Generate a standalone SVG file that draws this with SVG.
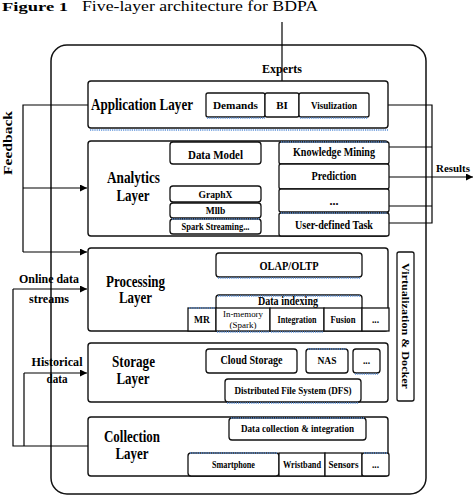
<svg xmlns="http://www.w3.org/2000/svg" width="474" height="496" viewBox="0 0 474 496">
<defs>
<marker id="ah" viewBox="0 0 10 10" refX="10" refY="5" markerWidth="7" markerHeight="7" markerUnits="userSpaceOnUse" orient="auto">
<path d="M0,0 L10,5 L0,10 z" fill="#000"/>
</marker>
</defs>
<style>
text{font-family:"Liberation Serif","Times New Roman",serif;fill:#000;font-weight:bold}
.box{fill:#fff;stroke:#111;stroke-width:1.3}
.layer{fill:#fff;stroke:#111;stroke-width:1.4}
.ln{fill:none;stroke:#000;stroke-width:1.2}
.ar{fill:none;stroke:#000;stroke-width:1.2;marker-end:url(#ah)}
.sh{fill:none;stroke:#5a8fd8;stroke-width:1.4;stroke-dasharray:1.2 1}
.big{font-size:16px}
.mid{font-size:12px}
.sm{font-size:9.5px}
.c{text-anchor:middle}
.reg{font-weight:normal}
</style>
<rect width="474" height="496" fill="#fff"/>
<text x="2" y="11" font-size="13" textLength="66" lengthAdjust="spacingAndGlyphs">Figure 1</text>
<text x="82" y="11" font-size="14" class="reg" style="font-weight:normal" textLength="236" lengthAdjust="spacingAndGlyphs">Five-layer architecture for BDPA</text>

<rect x="51" y="45" width="375" height="449" rx="16" fill="none" stroke="#111" stroke-width="1.5"/>

<g id="connectors">
<path class="ar" d="M282,22 V92"/>
<path class="ln" d="M88,105 H23 V252"/>
<path class="ar" d="M23,252 H87"/>
<path class="ar" d="M23,188 H87"/>
<path class="ln" d="M88,446 H13 V289"/>
<path class="ar" d="M13,289 H87"/>
<path class="ln" d="M24,446 V373"/>
<path class="ar" d="M24,373 H87"/>
<path class="ln" d="M388,105 H432 V223 H388 M388,147 H432 M388,206 H432"/>
<path class="ar" d="M388,177 H473"/>
<path class="ar" d="M215,164 V186"/>
<path class="ar" d="M261,194 H279"/>
<path class="ar" d="M288,277 V295"/>
<path class="ar" d="M297,453 V440"/>
</g>

<text x="282" y="73" class="c" font-size="13" textLength="40" lengthAdjust="spacingAndGlyphs">Experts</text>
<text x="12" y="143" class="c" font-size="13" transform="rotate(-90 12 143)" textLength="64" lengthAdjust="spacingAndGlyphs">Feedback</text>
<text x="453" y="172" class="c" font-size="11" textLength="34" lengthAdjust="spacingAndGlyphs">Results</text>
<text x="49" y="283" class="c" font-size="13" textLength="60" lengthAdjust="spacingAndGlyphs">Online data</text>
<text x="49" y="303" class="c" font-size="13" textLength="40" lengthAdjust="spacingAndGlyphs">streams</text>
<text x="57" y="366" class="c" font-size="13" textLength="51" lengthAdjust="spacingAndGlyphs">Historical</text>
<text x="57" y="383" class="c" font-size="13" textLength="21" lengthAdjust="spacingAndGlyphs">data</text>

<g id="application">
<rect class="layer" x="88" y="81" width="300" height="47" rx="3"/>
<line class="sh" x1="90" y1="130" x2="388" y2="130"/>
<text x="91" y="110" class="big" textLength="102" lengthAdjust="spacingAndGlyphs">Application Layer</text>
<rect class="box" x="206" y="93" width="59" height="24" rx="2"/>
<line class="sh" x1="207" y1="118" x2="265" y2="118"/>
<text x="235.5" y="109" class="c sm" textLength="45" lengthAdjust="spacingAndGlyphs">Demands</text>
<rect class="box" x="265" y="93" width="34" height="24" rx="2"/>
<text x="282" y="109" class="c" font-size="11">BI</text>
<rect class="box" x="299" y="93" width="70" height="24" rx="2"/>
<line class="sh" x1="300" y1="118" x2="368" y2="118"/>
<text x="334" y="109" class="c sm" textLength="46" lengthAdjust="spacingAndGlyphs">Visulization</text>
</g>

<g id="analytics">
<rect class="layer" x="88" y="141" width="300" height="95" rx="3"/>
<text x="133.5" y="183" class="c big" textLength="53" lengthAdjust="spacingAndGlyphs">Analytics</text>
<text x="133" y="201" class="c big" textLength="33" lengthAdjust="spacingAndGlyphs">Layer</text>
<rect class="box" x="170" y="142" width="91" height="22" rx="3"/>
<text x="215.5" y="159" class="c mid" textLength="55" lengthAdjust="spacingAndGlyphs">Data Model</text>
<rect class="box" x="170" y="186" width="91" height="16" rx="3"/>
<text x="215.5" y="198" class="c" font-size="10" textLength="34" lengthAdjust="spacingAndGlyphs">GraphX</text>
<rect class="box" x="170" y="203" width="91" height="15" rx="3"/>
<text x="215.5" y="214" class="c sm">Mllb</text>
<rect class="box" x="170" y="219" width="91" height="15" rx="3"/>
<line class="sh" x1="172" y1="219" x2="259" y2="219"/>
<text x="215.5" y="230" class="c sm" textLength="68" lengthAdjust="spacingAndGlyphs">Spark Streaming...</text>
<rect class="box" x="279" y="142" width="110" height="22" rx="2"/>
<line class="sh" x1="281" y1="142" x2="387" y2="142"/>
<text x="334" y="156" class="c mid" textLength="82" lengthAdjust="spacingAndGlyphs">Knowledge Mining</text>
<rect class="box" x="279" y="164" width="110" height="25" rx="2"/>
<text x="334" y="180" class="c mid" textLength="45" lengthAdjust="spacingAndGlyphs">Prediction</text>
<rect class="box" x="279" y="189" width="110" height="23" rx="2"/>
<text x="334" y="205" class="c mid">...</text>
<rect class="box" x="279" y="213" width="110" height="23" rx="2"/>
<line class="sh" x1="281" y1="213" x2="387" y2="213"/>
<text x="334" y="229" class="c mid" textLength="78" lengthAdjust="spacingAndGlyphs">User-defined Task</text>
</g>

<g id="processing">
<rect class="layer" x="88" y="248" width="300" height="83" rx="3"/>
<text x="135.5" y="287" class="c big" textLength="59" lengthAdjust="spacingAndGlyphs">Processing</text>
<text x="135.5" y="303" class="c big" textLength="33" lengthAdjust="spacingAndGlyphs">Layer</text>
<rect class="box" x="216" y="253" width="146" height="24" rx="3"/>
<line class="sh" x1="218" y1="278" x2="360" y2="278"/>
<text x="289" y="270" class="c mid" textLength="59" lengthAdjust="spacingAndGlyphs">OLAP/OLTP</text>
<rect class="box" x="216" y="295" width="146" height="15" rx="3"/>
<line class="sh" x1="218" y1="296" x2="360" y2="296"/>
<text x="288" y="305" class="c mid" textLength="60" lengthAdjust="spacingAndGlyphs">Data indexing</text>
<rect class="box" x="188" y="308" width="28" height="23"/>
<line class="sh" x1="189" y1="308" x2="215" y2="308"/>
<text x="202" y="323" class="c sm">MR</text>
<rect class="box" x="216" y="308" width="54" height="23"/>
<line class="sh" x1="217" y1="332" x2="269" y2="332"/>
<text x="243" y="317" class="c" font-size="9" style="font-weight:normal" textLength="40" lengthAdjust="spacingAndGlyphs">In-memory</text>
<text x="243" y="328" class="c" font-size="9" style="font-weight:normal">(Spark)</text>
<rect class="box" x="270" y="308" width="54" height="23"/>
<line class="sh" x1="271" y1="332" x2="323" y2="332"/>
<text x="297" y="323" class="c sm" textLength="39" lengthAdjust="spacingAndGlyphs">Integration</text>
<rect class="box" x="324" y="308" width="38" height="23"/>
<text x="343" y="323" class="c sm" textLength="25" lengthAdjust="spacingAndGlyphs">Fusion</text>
<rect class="box" x="362" y="308" width="27" height="23"/>
<text x="375.5" y="323" class="c sm">...</text>
</g>

<g id="virtualization">
<rect class="box" x="397" y="252" width="17" height="149" rx="2"/>
<text x="405.5" y="326" class="c" font-size="11" transform="rotate(90 405.5 326)" dy="3.5" textLength="126" lengthAdjust="spacingAndGlyphs">Virtualization &amp; Docker</text>
</g>

<g id="storage">
<rect class="layer" x="88" y="343" width="300" height="59" rx="3"/>
<text x="133.5" y="367" class="c big" textLength="43" lengthAdjust="spacingAndGlyphs">Storage</text>
<text x="133" y="384" class="c big" textLength="33" lengthAdjust="spacingAndGlyphs">Layer</text>
<rect class="box" x="206" y="349" width="91" height="24" rx="3"/>
<text x="251.5" y="364" class="c mid" textLength="62" lengthAdjust="spacingAndGlyphs">Cloud Storage</text>
<rect class="box" x="306" y="349" width="42" height="24" rx="3"/>
<line class="sh" x1="308" y1="349" x2="346" y2="349"/>
<text x="327" y="364" class="c sm">NAS</text>
<rect class="box" x="353" y="349" width="27" height="24" rx="3"/>
<line class="sh" x1="355" y1="374" x2="378" y2="374"/>
<text x="366.5" y="364" class="c sm">...</text>
<rect class="box" x="225" y="379" width="136" height="23" rx="3"/>
<line class="sh" x1="227" y1="403" x2="359" y2="403"/>
<text x="293" y="394" class="c" font-size="10.5" textLength="117" lengthAdjust="spacingAndGlyphs">Distributed File System (DFS)</text>
</g>

<g id="collection">
<rect class="layer" x="88" y="417" width="300" height="59" rx="3"/>
<text x="132" y="442" class="c big" textLength="56" lengthAdjust="spacingAndGlyphs">Collection</text>
<text x="132" y="459" class="c big" textLength="33" lengthAdjust="spacingAndGlyphs">Layer</text>
<rect class="box" x="229" y="418" width="137" height="22" rx="3"/>
<line class="sh" x1="231" y1="418" x2="364" y2="418"/>
<text x="297.5" y="432" class="c" font-size="10" textLength="113" lengthAdjust="spacingAndGlyphs">Data collection &amp; integration</text>
<rect class="box" x="188" y="453" width="91" height="23" rx="3"/>
<line class="sh" x1="190" y1="453" x2="277" y2="453"/>
<text x="233.5" y="468" class="c sm" textLength="43" lengthAdjust="spacingAndGlyphs">Smartphone</text>
<rect class="box" x="279" y="453" width="46" height="23"/>
<text x="302" y="468" class="c sm" textLength="38" lengthAdjust="spacingAndGlyphs">Wristband</text>
<rect class="box" x="325" y="453" width="37" height="23"/>
<text x="343.5" y="468" class="c sm" textLength="30" lengthAdjust="spacingAndGlyphs">Sensors</text>
<rect class="box" x="362" y="453" width="27" height="23" rx="2"/>
<line class="sh" x1="364" y1="453" x2="387" y2="453"/>
<text x="375.5" y="468" class="c sm">...</text>
</g>
</svg>
